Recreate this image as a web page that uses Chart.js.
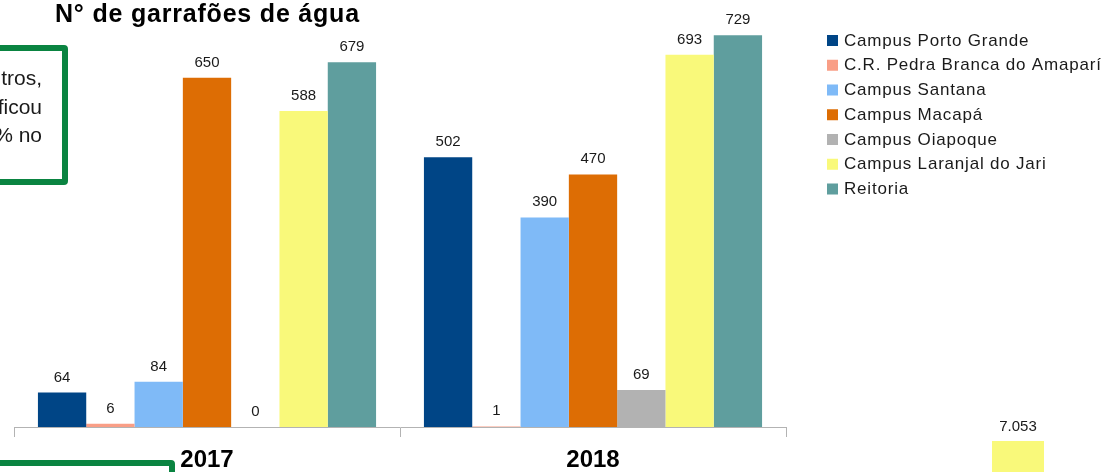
<!DOCTYPE html>
<html lang="pt">
<head>
    <meta charset="UTF-8">
    <title>N° de garrafões de água</title>
    <script src="https://cdn.jsdelivr.net/npm/chart.js@4.4.0/dist/chart.umd.min.js"></script>
    <style>
        html, body {
            margin: 0;
            padding: 0;
            width: 1118px;
            height: 472px;
            overflow: hidden;
            background: #fff;
            font-family: "Liberation Sans", Arial, sans-serif;
        }
        #wrap { position: relative; width: 1118px; height: 472px; overflow: hidden; }
        #grafico { position: absolute; left: 0; top: 0; }
        .titulo {
            position: absolute; left: 55px; top: 1px;
            font-size: 25px; font-weight: bold; letter-spacing: 0.8px;
            line-height: 1; color: #000; white-space: nowrap;
        }
        .caixa1 {
            position: absolute; left: -300px; top: 45px;
            width: 356px; height: 128px;
            border: 6px solid #0a8441; border-radius: 4px;
        }
        .texto1 {
            position: absolute; left: -100px; top: 64px; width: 142px;
            text-align: right; font-size: 21px; line-height: 28.5px; color: #1a1a1a;
        }
        .caixa2 {
            position: absolute; left: -300px; top: 460px;
            width: 463px; height: 100px;
            border: 6px solid #0a8441; border-radius: 4px;
        }
        .total {
            position: absolute; left: 992px; top: 441px;
            width: 52px; height: 40px; background: #f9f97a;
        }
        .total-rotulo {
            position: absolute; left: 968px; top: 418px; width: 100px;
            text-align: center; font-size: 15px; line-height: 15px; color: #1a1a1a;
        }
    </style>
</head>
<body>
<div id="wrap">
    <canvas id="grafico" width="1118" height="472"></canvas>
    <div class="titulo">N° de garrafões de água</div>
    <div class="caixa1"></div>
    <div class="texto1">tros,<br>ficou<br>% no</div>
    <div class="caixa2"></div>
    <div class="total"></div>
    <div class="total-rotulo">7.053</div>
</div>

<script>
    const anos = ['2017', '2018'];
    const unidades = [
        'Campus Porto Grande',
        'C.R. Pedra Branca do Amaparí',
        'Campus Santana',
        'Campus Macapá',
        'Campus Oiapoque',
        'Campus Laranjal do Jari',
        'Reitoria'
    ];
    const cores = ['#004586', '#f99e86', '#7fbaf7', '#dd6d04', '#b2b2b2', '#f9f97a', '#5f9e9e'];
    const valores2017 = [64, 6, 84, 650, 0, 588, 679];
    const valores2018 = [502, 1, 390, 470, 69, 693, 729];

    const fonte = '"Liberation Sans", Arial, sans-serif';

    // rótulos de valor em cima das barras
    const rotulosPlugin = {
        id: 'rotulos',
        afterDatasetsDraw(chart) {
            const ctx = chart.ctx;
            ctx.save();
            ctx.font = '15px ' + fonte;
            ctx.fillStyle = '#1a1a1a';
            ctx.textAlign = 'center';
            ctx.textBaseline = 'alphabetic';
            chart.data.datasets.forEach((ds, i) => {
                chart.getDatasetMeta(i).data.forEach((bar, j) => {
                    ctx.fillText(String(ds.data[j]), bar.x, bar.y - 11);
                });
            });
            ctx.restore();
        }
    };

    // legenda à direita
    const legendaPlugin = {
        id: 'legenda',
        afterDraw(chart) {
            const ctx = chart.ctx;
            ctx.save();
            ctx.font = '17px ' + fonte;
            ctx.letterSpacing = '0.8px';
            ctx.textBaseline = 'middle';
            chart.data.datasets.forEach((ds, i) => {
                const y = 40 + i * 24.75;
                ctx.fillStyle = ds.backgroundColor;
                ctx.fillRect(827, y - 5, 11, 11);
                ctx.fillStyle = '#1a1a1a';
                ctx.fillText(ds.label, 844, y + 1);
            });
            ctx.restore();
        }
    };

    const datasets = unidades.map((nome, i) => ({
        label: nome,
        data: [valores2017[i], valores2018[i]],
        backgroundColor: cores[i],
        borderWidth: 0
    }));

    new Chart(document.getElementById('grafico'), {
        type: 'bar',
        data: { labels: anos, datasets: datasets },
        options: {
            responsive: false,
            animation: false,
            layout: { padding: { left: 14, right: 332, top: 2, bottom: 0 } },
            datasets: { bar: { categoryPercentage: 0.876, barPercentage: 1 } },
            plugins: { legend: { display: false }, tooltip: { enabled: false } },
            scales: {
                x: {
                    grid: { offset: true, drawOnChartArea: false, drawTicks: true, tickLength: 10, color: '#b3b3b3' },
                    border: { color: '#b3b3b3' },
                    ticks: { color: '#000', padding: 9, font: { family: fonte, size: 24, weight: 'bold' } },
                    afterFit: s => { s.height = 45; }
                },
                y: { display: false, min: 0, max: 791 }
            }
        },
        plugins: [rotulosPlugin, legendaPlugin]
    });
</script>
</body>
</html>
